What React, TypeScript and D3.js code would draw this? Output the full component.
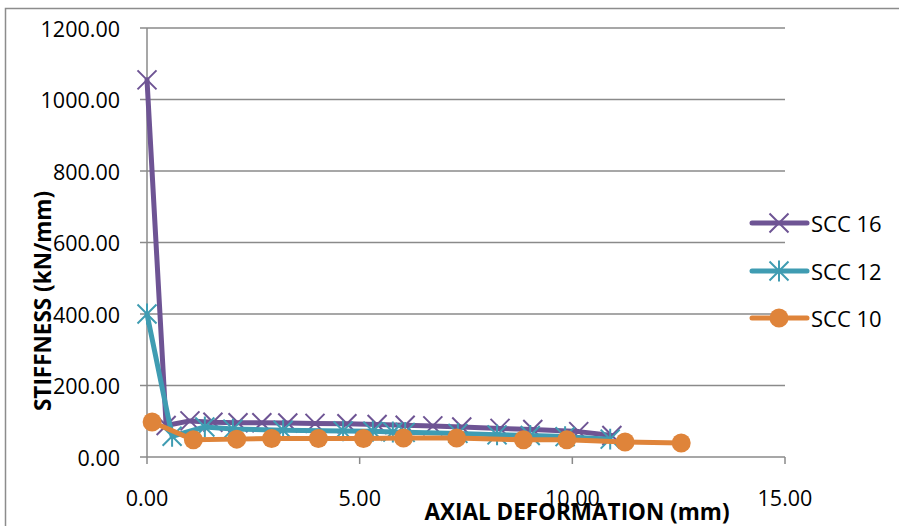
import React from 'react';
import * as d3 from 'd3';

const xTicks = [0, 5, 10, 15];
const yTicks = [0, 200, 400, 600, 800, 1000, 1200];

const seriesNames = ['SCC 16', 'SCC 12', 'SCC 10'];

const scc16X = [0, 0.45, 1.01, 1.55, 2.14, 2.7, 3.31, 3.95, 4.7, 5.41, 6.07, 6.72, 7.4, 8.3, 9.07, 10.15, 10.93];
const scc16Y = [1055, 88, 101, 97, 96, 96, 95, 94, 93, 91, 89, 87, 84, 80, 77, 71, 60];

const scc12X = [0, 0.59, 1.36, 2.02, 3.2, 4.61, 5.31, 5.78, 6.07, 7.31, 8.23, 9.01, 9.83, 10.89];
const scc12Y = [400, 58, 84, 78, 75, 73, 72, 70, 69, 66, 62, 60, 57, 50];

const scc10X = [0.12, 1.09, 2.11, 2.93, 4.03, 5.09, 6.03, 7.28, 8.85, 9.87, 11.24, 12.56];
const scc10Y = [98, 48, 50, 52, 52, 52, 53, 53, 48, 48, 42, 39];

const colors = ['#6E5494', '#3F9CB2', '#DF843A'];
const grid = '#8a8a8a';
const font = "'Open Sans', 'Liberation Sans', sans-serif";

function Marker({ kind, cx, cy, color }: { kind: number; cx: number; cy: number; color: string }) {
  const s = 9.5;
  if (kind === 0) {
    return (
      <path d={`M${cx - s},${cy - s}L${cx + s},${cy + s}M${cx - s},${cy + s}L${cx + s},${cy - s}`} stroke={color} strokeWidth={2} fill="none" />
    );
  }
  if (kind === 1) {
    return (
      <path
        d={`M${cx - s},${cy - s}L${cx + s},${cy + s}M${cx - s},${cy + s}L${cx + s},${cy - s}M${cx},${cy - s * 1.1}L${cx},${cy + s * 1.1}`}
        stroke={color}
        strokeWidth={2}
        fill="none"
      />
    );
  }
  return <circle cx={cx} cy={cy} r={9.5} fill={color} />;
}

export default function App() {
  const x = d3.scaleLinear().domain([0, 15]).range([147, 785]);
  const y = d3.scaleLinear().domain([0, 1200]).range([457, 28]);
  const line = d3
    .line<[number, number]>()
    .x((d) => x(d[0]))
    .y((d) => y(d[1]));

  const series: [number, number][][] = [
    scc16X.map((v, i) => [v, scc16Y[i]] as [number, number]),
    scc12X.map((v, i) => [v, scc12Y[i]] as [number, number]),
    scc10X.map((v, i) => [v, scc10Y[i]] as [number, number]),
  ];

  const legendY = [223, 271, 318];

  return (
    <svg width={899} height={526} style={{ position: 'absolute', left: 0, top: 0, background: '#fff' }}>
      <rect x={0} y={0} width={899} height={526} fill="#fff" />
      <rect x={5.5} y={8.5} width={1000} height={1000} fill="none" stroke="#8c8c8c" strokeWidth={1.5} />
      {yTicks.map((t) => (
        <g key={t}>
          <line x1={140} x2={785} y1={y(t)} y2={y(t)} stroke={grid} strokeWidth={1.5} />
          <text x={120} y={y(t)} textAnchor="end" dominantBaseline="central" fontFamily={font} fontSize={21.5} fill="#000">
            {t.toFixed(2)}
          </text>
        </g>
      ))}
      <line x1={x(0)} x2={x(0)} y1={y(1200)} y2={y(0)} stroke={grid} strokeWidth={1.5} />
      {xTicks.map((t) => (
        <g key={t}>
          <line x1={x(t)} x2={x(t)} y1={y(0)} y2={y(0) + 7} stroke={grid} strokeWidth={1.5} />
          <text x={x(t)} y={497} textAnchor="middle" dominantBaseline="central" fontFamily={font} fontSize={21.5} fill="#000">
            {t.toFixed(2)}
          </text>
        </g>
      ))}
      {series.map((s, i) => (
        <g key={i}>
          <path d={line(s) || ''} fill="none" stroke={colors[i]} strokeWidth={5} strokeLinejoin="round" strokeLinecap="round" />
          {s.map((d, j) => (
            <Marker key={j} kind={i} cx={x(d[0])} cy={y(d[1])} color={colors[i]} />
          ))}
        </g>
      ))}
      <text x={577} y={520} textAnchor="middle" fontFamily={font} fontWeight="bold" fontSize={22.5} fill="#000">
        AXIAL DEFORMATION (mm)
      </text>
      <text transform="translate(51,301) rotate(-90)" textAnchor="middle" fontFamily={font} fontWeight="bold" fontSize={22.5} fill="#000">
        STIFFNESS (kN/mm)
      </text>
      {seriesNames.map((n, i) => (
        <g key={n}>
          <line x1={752} x2={807} y1={legendY[i]} y2={legendY[i]} stroke={colors[i]} strokeWidth={5} strokeLinecap="round" />
          <Marker kind={i} cx={779} cy={legendY[i]} color={colors[i]} />
          <text x={811} y={legendY[i]} dominantBaseline="central" fontFamily={font} fontSize={22} fill="#000">
            {n}
          </text>
        </g>
      ))}
    </svg>
  );
}
